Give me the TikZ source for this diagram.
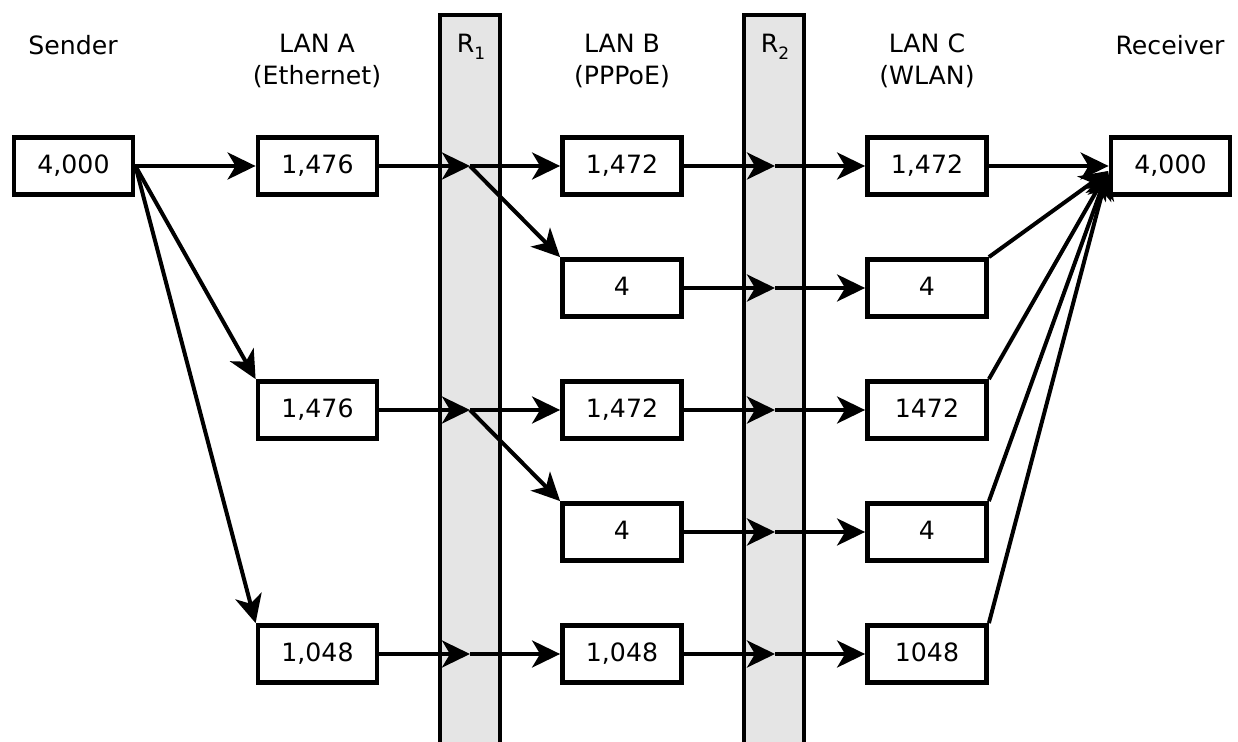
\documentclass[tikz,border=0pt]{standalone}
\usepackage{fontspec}
\setmainfont{DejaVu Sans}
\usetikzlibrary{arrows.meta,calc}
\definecolor{cRouter}{HTML}{E5E5E5}
\newcommand{\rsub}[1]{R\raisebox{-3.5pt}{\fontsize{8.5}{8.5}\selectfont #1}}
\tikzset{
  pkt/.style={rectangle, draw=black, line width=2.4pt, fill=white, minimum width=59.5pt, minimum height=28.5pt, inner sep=0pt, text height=9.2pt, text depth=1.8pt},
  flow/.style={-{Stealth[length=14pt, width=13.5pt, inset=4pt]}, line width=2pt},
  rtr/.style={draw=black, line width=2.4pt, fill=cRouter},
  hdr/.style={align=center, inner sep=0pt},
}

\begin{document}
\begin{tikzpicture}[x=0.5pt, y=-0.5pt, font=\fontsize{12.6}{16}\selectfont]
  \useasboundingbox (0,0) rectangle (1238,742);

  % routers
  \draw[rtr] (440,760) -- (440,15) -- (500,15) -- (500,760);
  \draw[rtr] (744,760) -- (744,15) -- (804,15) -- (804,760);

  % column headers
  \node[hdr] (hs) at (73,45) {Sender};
  \node[hdr] (ha) at (317,61) {LAN A\\(Ethernet)};
  \node[hdr] (hr1) at (471,47) {\rsub{1}};
  \node[hdr] (hb) at (622,61) {LAN B\\(PPPoE)};
  \node[hdr] (hr2) at (775,47) {\rsub{2}};
  \node[hdr] (hc) at (927,61) {LAN C\\(WLAN)};
  \node[hdr] (hv) at (1170,45) {Receiver};

  % packets
  \node[pkt] (snd) at (73.5,166) {4,000};
  \node[pkt] (a1) at (317.5,166) {1,476};
  \node[pkt] (a3) at (317.5,410) {1,476};
  \node[pkt] (a5) at (317.5,654) {1,048};
  \node[pkt] (b1) at (622,166) {1,472};
  \node[pkt] (b2) at (622,288) {4};
  \node[pkt] (b3) at (622,410) {1,472};
  \node[pkt] (b4) at (622,532) {4};
  \node[pkt] (b5) at (622,654) {1,048};
  \node[pkt] (c1) at (927,166) {1,472};
  \node[pkt] (c2) at (927,288) {4};
  \node[pkt] (c3) at (927,410) {1472};
  \node[pkt] (c4) at (927,532) {4};
  \node[pkt] (c5) at (927,654) {1048};
  \node[pkt] (rcv) at (1170.5,166) {4,000};

  % hand-over points in the routers
  \coordinate (r1a) at (470,166);
  \coordinate (r1c) at (470,410);
  \coordinate (r1e) at (470,654);
  \foreach \i/\y in {1/166, 2/288, 3/410, 4/532, 5/654}
    \coordinate (r2\i) at (775,\y);
  \coordinate (rin) at (1108,171);

  % sender -> LAN A
  \draw[flow] (snd) -- (a1);
  \draw[flow] (snd.east) -- (a3.north west);
  \draw[flow] (snd.east) -- (a5.north west);

  % LAN A -> R1 -> LAN B
  \draw[flow] (a1) -- (r1a);
  \draw[flow] (a3) -- (r1c);
  \draw[flow] (a5) -- (r1e);
  \draw[flow] (r1a) -- (b1);
  \draw[flow] (r1a) -- (b2.north west);
  \draw[flow] (r1c) -- (b3);
  \draw[flow] (r1c) -- (b4.north west);
  \draw[flow] (r1e) -- (b5);

  % LAN B -> R2 -> LAN C
  \foreach \i in {1,...,5} {
    \draw[flow] (b\i) -- (r2\i);
    \draw[flow] (r2\i) -- (c\i);
  }

  % LAN C -> receiver
  \draw[flow] (c1) -- (rcv);
  \foreach \i in {2,...,5}
    \draw[flow] (c\i.north east) -- (rin);
\end{tikzpicture}
\end{document}
